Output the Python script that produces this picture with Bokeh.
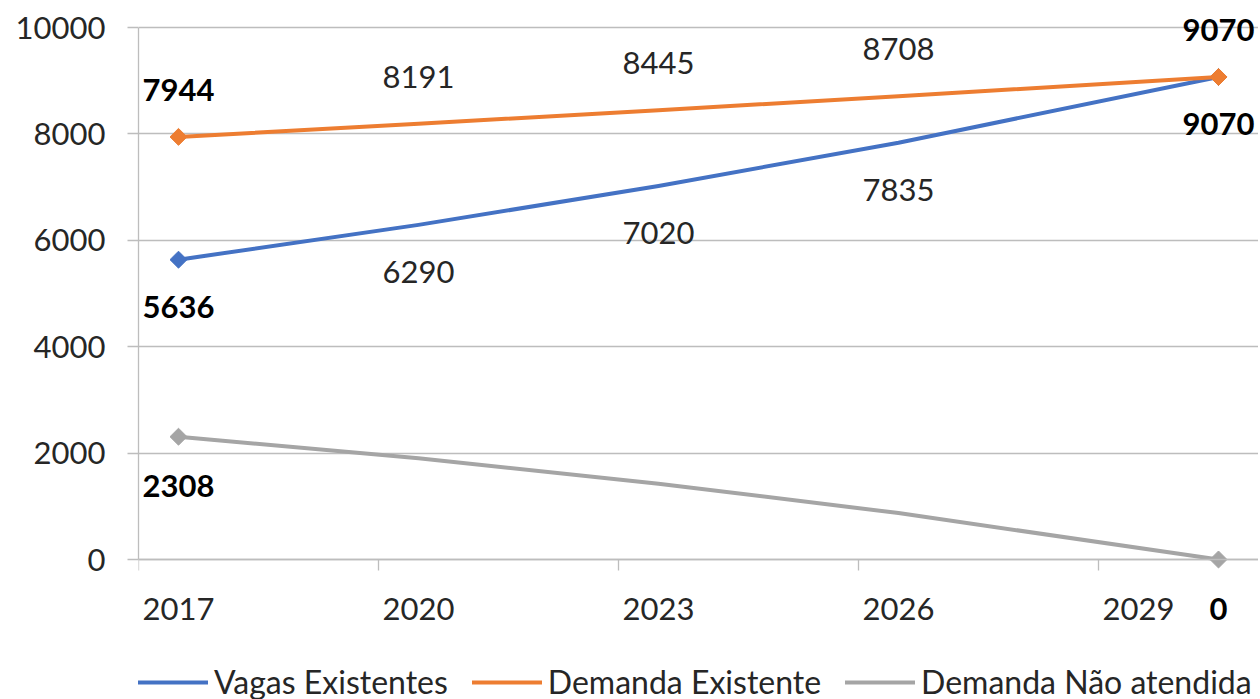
import math
from bokeh.plotting import figure
from bokeh.models import (ColumnDataSource, LabelSet, Legend, LegendItem,
                          FixedTicker)
from bokeh.core.properties import value
from bokeh.embed import file_html
from bokeh.resources import INLINE

# ---- data ----
years = [2017, 2020, 2023, 2026, 2030]
vagas = [5636, 6290, 7020, 7835, 9070]
demanda = [7944, 8191, 8445, 8708, 9070]
nao_atendida = [2308, 1901, 1425, 873, 0]
tick_years = [2017, 2020, 2023, 2026, 2029]
y_ticks = [0, 2000, 4000, 6000, 8000, 10000]
series_names = ["Vagas Existentes", "Demanda Existente", "Demanda Não atendida"]
colors = ["#4472C4", "#ED7D31", "#A5A5A5"]

FONT = "Lato"
FS = "31px"
GRID = "#BDBDBD"
TXT = "#262626"

# layout (pixels)
TOP = 10          # frame top
BOTTOM = 699      # frame bottom (whole window height)
Y10K = 27         # pixel row of the top gridline
Y0 = 559          # pixel row of the zero line
PX = (y_ticks[-1] - y_ticks[0]) / (Y0 - Y10K)   # data units per pixel
y_top = y_ticks[-1] + (Y10K - TOP) * PX
y_bottom = y_ticks[0] - (BOTTOM - Y0) * PX

p = figure(frame_width=1120, frame_height=BOTTOM - TOP,
           x_range=(years[0] - 0.5, years[-1] + 0.5),
           y_range=(y_bottom, y_top),
           output_backend="svg", toolbar_location=None,
           min_border_left=138, min_border_top=TOP, min_border_right=0,
           min_border_bottom=0)
p.outline_line_color = None
p.background_fill_color = "white"
p.border_fill_color = "white"
p.xgrid.visible = False
p.ygrid.grid_line_color = GRID
p.ygrid.grid_line_width = 1.3
p.ygrid.ticker = FixedTicker(ticks=y_ticks)

# y axis
ya = p.yaxis[0]
ya.ticker = FixedTicker(ticks=y_ticks)
ya.bounds = (y_ticks[0], y_ticks[-1])
ya.axis_line_color = GRID
ya.axis_line_width = 1.3
ya.major_tick_line_color = GRID
ya.major_tick_line_width = 1.3
ya.major_tick_out = 11
ya.major_tick_in = 0
ya.minor_tick_line_color = None
ya.major_label_text_font = FONT
ya.major_label_text_font_size = FS
ya.major_label_text_color = TXT
ya.major_label_standoff = 22

# x axis line at zero, tick marks (minor) at category boundaries
bounds = [t - 0.5 for t in tick_years]
xa = p.xaxis[0]
xa.fixed_location = 0
xa.ticker = FixedTicker(ticks=tick_years, minor_ticks=bounds)
xa.major_label_overrides = {t: "" for t in tick_years}
xa.axis_line_color = GRID
xa.axis_line_width = 1.3
xa.major_tick_line_color = None
xa.major_tick_out = 0
xa.major_tick_in = 0
xa.minor_tick_line_color = GRID
xa.minor_tick_line_width = 1.3
xa.minor_tick_out = 11
xa.minor_tick_in = 0
xa.major_label_text_font = FONT
xa.major_label_text_font_size = "12px"
xa.major_label_standoff = 0

# year labels of the x axis
year_src = ColumnDataSource(dict(x=tick_years, y=[0] * len(tick_years),
                                 text=[str(t) for t in tick_years]))
p.add_layout(LabelSet(x="x", y="y", text="text", y_offset=-49,
                      source=year_src, text_align="center",
                      text_baseline="middle", text_font=value(FONT),
                      text_font_size=value(FS), text_color=value(TXT)))

renderers = []
all_series = [vagas, demanda, nao_atendida]
for vals, color in zip(all_series, colors):
    r = p.line(years, vals, line_width=4, line_color=color,
               line_join="round", line_cap="round")
    renderers.append(r)
    ends = [0, len(years) - 1]
    p.scatter([years[i] for i in ends], [vals[i] for i in ends],
              marker="square", angle=math.pi / 4, size=12,
              fill_color=color, line_color=color)

# data labels
reg = dict(x=[], y=[], text=[], off=[])
bold = dict(x=[], y=[], text=[], off=[])
label_cfg = [(vagas, -47, True), (demanda, 47, True), (nao_atendida, -49, False)]
for vals, off, middle in label_cfg:
    for i, (xv, yv) in enumerate(zip(years, vals)):
        end = i in (0, len(years) - 1)
        if not end and not middle:
            continue
        d = bold if end else reg
        d["x"].append(xv)
        d["y"].append(yv)
        d["text"].append(str(yv))
        d["off"].append(off)

for d, style, col in [(reg, "normal", TXT), (bold, "bold", "#000000")]:
    ls = LabelSet(x="x", y="y", text="text", y_offset="off",
                  source=ColumnDataSource(d), text_align="center",
                  text_baseline="middle", text_font=value(FONT),
                  text_font_size=value(FS),
                  text_font_style=value(style), text_color=value(col))
    p.add_layout(ls)

legend = Legend(items=[LegendItem(label=n, renderers=[r])
                       for n, r in zip(series_names, renderers)],
                orientation="horizontal", location=(0, -2),
                glyph_width=70, glyph_height=24, label_standoff=6, spacing=24,
                label_text_font=FONT, label_text_font_size="32px",
                label_text_color=TXT, border_line_color=None,
                background_fill_alpha=0, padding=0, margin=0)
p.add_layout(legend, "center")

open("out.html", "w").write(file_html(p, INLINE))
